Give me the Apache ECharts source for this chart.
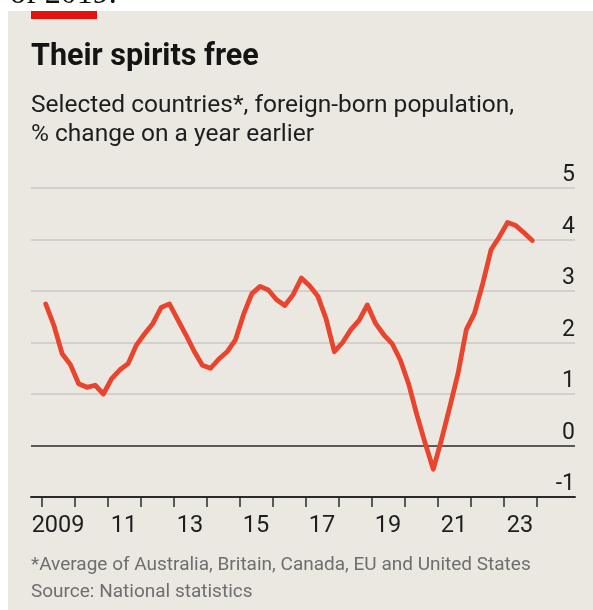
<!DOCTYPE html>
<html>
<head>
<meta charset="utf-8">
<script src="https://cdn.jsdelivr.net/npm/echarts@6/dist/echarts.min.js"></script>
<style>
html,body{margin:0;padding:0;background:#fff;}
#c{width:593px;height:610px;}
</style>
</head>
<body>
<div id="c"></div>
<script>
// Quarterly data, 2009 Q1 to 2023 Q4
const startYear = 2009;
const quartersPerYear = 4;
const growth = [
  2.75, 2.33, 1.78, 1.57, 1.20, 1.13, 1.17, 1.00,
  1.30, 1.47, 1.59, 1.95, 2.17, 2.37, 2.68, 2.75,
  2.45, 2.15, 1.83, 1.56, 1.50, 1.68, 1.82, 2.05,
  2.55, 2.95, 3.09, 3.02, 2.83, 2.72, 2.93, 3.25,
  3.10, 2.90, 2.46, 1.82, 2.00, 2.25, 2.43, 2.73,
  2.37, 2.15, 1.98, 1.66, 1.20, 0.60, 0.05, -0.46,
  0.12, 0.75, 1.40, 2.25, 2.57, 3.15, 3.80, 4.05,
  4.33, 4.27, 4.13, 3.98
];
const tickYears = [2009,2010,2011,2012,2013,2014,2015,2016,2017,2018,2019,2020,2021,2022,2023,2024];
const labelYears = [2009,2011,2013,2015,2017,2019,2021,2023];
const labelTexts = ['2009','11','13','15','17','19','21','23'];
const yTicks = [-1,0,1,2,3,4,5];

const seriesData = growth.map((v, i) => [startYear + (i + 0.5) / quartersPerYear, v]);
const labelPos = labelYears.map(y => y + 0.5);

const FONT = 'Roboto, "Noto Sans", sans-serif';
const chart = echarts.init(document.getElementById('c'));
chart.setOption({
  backgroundColor: '#ffffff',
  animation: false,
  graphic: [
    {type:'text', x:10, y:11, style:{text:'of 2019.', font:'32px "Liberation Serif", serif', fill:'#111', verticalAlign:'bottom'}, z:-20},
    {type:'rect', left:8, top:11, shape:{width:585, height:599}, style:{fill:'#ebe8e1'}, z:-10},
    {type:'rect', left:31, top:11, shape:{width:66, height:8}, style:{fill:'#e3120b'}, z:-5}
  ],
  title: [
    {text:'Their spirits free', left:31, top:42, padding:0, textStyle:{fontFamily:FONT, fontWeight:'bold', fontSize:30.5, color:'#141414'}},
    {text:'Selected countries*, foreign-born population,\n% change on a year earlier', left:31, top:91, padding:0,
      textStyle:{fontFamily:FONT, fontWeight:'normal', fontSize:24.5, lineHeight:29.5, color:'#1e1e1e'}},
    {text:'*Average of Australia, Britain, Canada, EU and United States\nSource: National statistics', left:31, top:552, padding:0,
      textStyle:{fontFamily:FONT, fontWeight:'normal', fontSize:19, lineHeight:27, color:'#6e6e6e'}}
  ],
  grid: {left:31, right:18, top:188, bottom:113, containLabel:false, outerBoundsMode:'none'},
  xAxis: {
    type:'value', min:2008.68, max:2025.17,
    axisLine:{show:true, onZero:false, lineStyle:{color:'#2b2b2b', width:2}},
    axisTick:{show:true, customValues:tickYears, length:10, lineStyle:{color:'#2b2b2b', width:1.5}},
    axisLabel:{show:true, customValues:labelPos, margin:17, fontFamily:FONT, fontSize:23.5, color:'#1e1e1e',
      formatter: v => { const i = labelPos.indexOf(v); return i >= 0 ? labelTexts[i] : ''; }},
    splitLine:{show:false}
  },
  yAxis: {
    type:'value', position:'right', min:yTicks[0], max:yTicks[yTicks.length-1], interval:1,
    axisLine:{show:false}, axisTick:{show:false},
    axisLabel:{inside:true, margin:0, align:'right', verticalAlign:'bottom', padding:[0,0,1,0],
      fontFamily:FONT, fontSize:23, color:'#1e1e1e'},
    splitLine:{show:true, lineStyle:{color:['#2b2b2b','#2b2b2b','#c9c9c6','#c9c9c6','#c9c9c6','#c9c9c6','#c9c9c6'], width:1.6}}
  },
  series: [{
    type:'line', data:seriesData, showSymbol:false, symbol:'none',
    lineStyle:{color:'#e9442d', width:4.8, join:'round', cap:'round'},
    z:5
  }]
});
</script>
</body>
</html>
